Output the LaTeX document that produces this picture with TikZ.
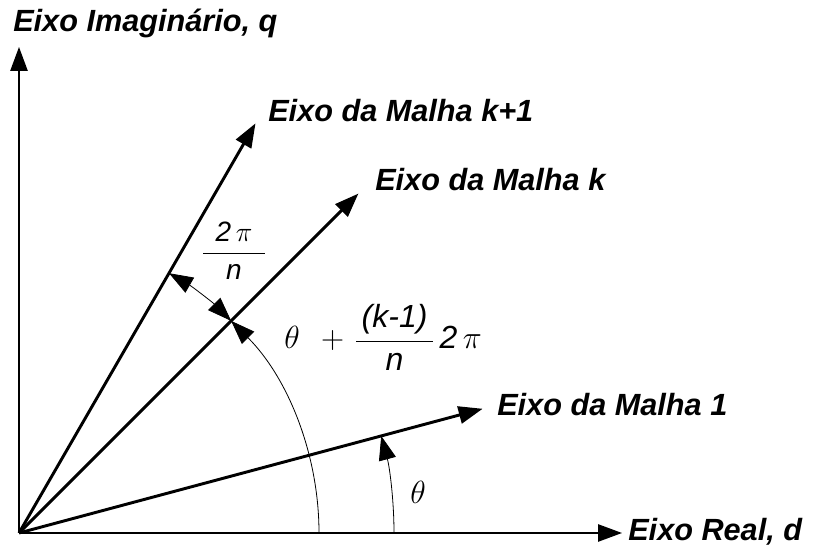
\RequirePackage{fix-cm}
\documentclass[tikz,border=0pt]{standalone}
\usepackage{fontspec}
\setmainfont{Liberation Sans}
\usetikzlibrary{arrows.meta,calc}
\begin{document}
\begin{tikzpicture}[x=0.75pt,y=0.75pt,
  tipa/.tip={Triangle[length=18pt,width=13pt]},
  axisline/.style={line width=1.2pt,-{tipa}},
  vecline/.style={line width=2.2pt,-{tipa}},
  thinarc/.style={line width=0.6pt},
  lbl/.style={font=\fontsize{23}{27}\selectfont\bfseries\itshape,inner sep=0pt,anchor=base west},
  mlbl/.style={font=\fontsize{21}{25}\selectfont,inner sep=0pt},
  blbl/.style={font=\fontsize{24}{28}\selectfont,inner sep=0pt}]
\useasboundingbox (0,0) rectangle (815,546);
\coordinate (O) at (19,13);
\coordinate (Q) at (19,499);
\coordinate (D) at (622,13);
\coordinate (T1) at ($(O)+(15:360pt)$);
\coordinate (Tk) at ($(O)+(45:360pt)$);
\coordinate (Tk1) at ($(O)+(60:354.75pt)$);
\draw[axisline] (O) -- (Q);
\draw[axisline] (O) -- (D);
\draw[vecline] (O) -- (T1);
\draw[vecline] (O) -- (Tk);
\draw[vecline] (O) -- (Tk1);
\coordinate (A0) at ($(O)+(0:225pt)$);
\coordinate (B0) at ($(O)+(45:225pt)$);
\coordinate (C0) at ($(O)+(0:281.25pt)$);
\draw[thinarc,-{tipa}] (A0) arc[start angle=0,end angle=45,radius=225pt];
\draw[thinarc,{tipa}-{tipa}] (B0) arc[start angle=45,end angle=60,radius=225pt];
\draw[thinarc,-{tipa}] (C0) arc[start angle=0,end angle=15,radius=281.25pt];
\node[lbl] (lq) at (13,514) {Eixo Imaginário, q};
\node[lbl] (ld) at (628,5) {Eixo Real, d};
\node[lbl] (lk1) at (268,424) {Eixo da Malha k+1};
\node[lbl] (lk) at (375,355) {Eixo da Malha k};
\node[lbl] (l1) at (497,130) {Eixo da Malha 1};
\node[mlbl,anchor=base] (f2) at (234,286) {$\displaystyle\frac{\mkern8mu\textit{2}\,\pi\mkern8mu}{\textit{n}}$};
\node[blbl,anchor=base west] (fb) at (284,197) {$\theta\mkern12mu{+}\mkern6mu\displaystyle\frac{\mkern3mu\textit{(k-1)}\mkern3mu}{\textit{n}}\mkern3mu\textit{2}\,\pi$};
\node[blbl] (th) at (418,54) {$\theta$};
\end{tikzpicture}
\end{document}
